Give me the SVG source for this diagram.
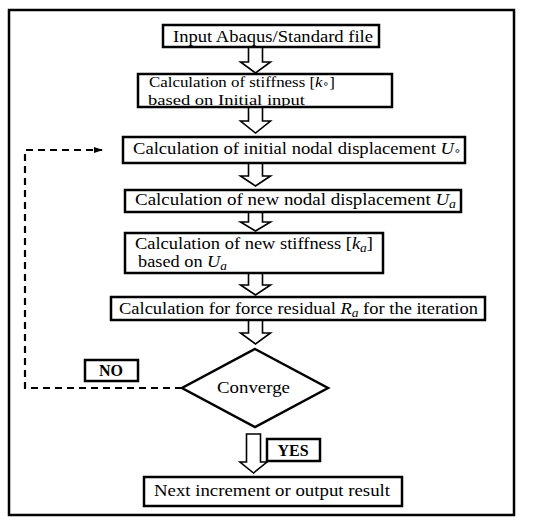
<svg xmlns="http://www.w3.org/2000/svg" width="550" height="526" viewBox="0 0 550 526">
<style>
.t{font-family:"Liberation Serif","Times New Roman",serif;font-size:16.5px;fill:#000}
.m{font-size:15.5px}
.b{font-weight:bold;font-size:16px}
.box{fill:#fff;stroke:#000;stroke-width:2.5}
.arr{fill:#fff;stroke:#000;stroke-width:1.6;stroke-linejoin:miter}
.dash{fill:none;stroke:#000;stroke-width:2.2;stroke-dasharray:7 5}
.i{font-style:italic}
.s{font-style:italic;font-size:12px}
.o{font-family:"DejaVu Sans",sans-serif;font-size:10px}
</style>
<defs>
<marker id="ah" markerWidth="9" markerHeight="8" refX="8" refY="4" orient="auto" markerUnits="userSpaceOnUse"><path d="M0,1 L9,4 L0,7 Z" fill="#000"/></marker>
</defs>
<rect x="0" y="0" width="550" height="526" fill="#fff"/>
<rect x="9" y="10" width="505" height="505" fill="none" stroke="#000" stroke-width="2.5"/>

<g id="connectors">
<path class="arr" d="M248.5,47 V62 H240.5 L255.5,73 L270.5,62 H262.5 V47 Z"/>
<path class="arr" d="M248.5,107 V121 H240.5 L255.5,133 L270.5,121 H262.5 V107 Z"/>
<path class="arr" d="M248.5,163 V176 H240.5 L255.5,186 L270.5,176 H262.5 V163 Z"/>
<path class="arr" d="M248.5,212 V222 H240.5 L255.5,231 L270.5,222 H262.5 V212 Z"/>
<path class="arr" d="M248.5,273 V285 H240.5 L255.5,295 L270.5,285 H262.5 V273 Z"/>
<path class="arr" d="M248.5,320 V333 H240.5 L255.5,344 L270.5,333 H262.5 V320 Z"/>
<path class="arr" d="M246.5,434 V462 H240 L253.5,473 L267,462 H260.5 V434 Z"/>
<path class="dash" d="M182,388 H25 V150 H102" marker-end="url(#ah)"/>
</g>

<g id="n1">
<rect class="box" x="163" y="25" width="216" height="22"/>
<text class="t" x="173" y="42" textLength="200" lengthAdjust="spacingAndGlyphs">Input Abaqus/Standard file</text>
</g>
<g id="n2">
<rect class="box" x="138" y="74" width="254" height="33"/>
<text class="t m" x="149" y="87" textLength="186" lengthAdjust="spacingAndGlyphs">Calculation of stiffness [<tspan class="i">k</tspan><tspan class="o">∘</tspan>]</text>
<text class="t m" x="148" y="104.5" textLength="157" lengthAdjust="spacingAndGlyphs">based on Initial input</text>
</g>
<g id="n3">
<rect class="box" x="123" y="137" width="342" height="26"/>
<text class="t" x="133" y="154" textLength="328" lengthAdjust="spacingAndGlyphs">Calculation of initial nodal displacement <tspan class="i">U</tspan><tspan class="o">∘</tspan></text>
</g>
<g id="n4">
<rect class="box" x="125" y="190" width="336" height="22"/>
<text class="t" x="135" y="205" textLength="321" lengthAdjust="spacingAndGlyphs">Calculation of new nodal displacement <tspan class="i">U</tspan><tspan class="s" dy="3">a</tspan></text>
</g>
<g id="n5">
<rect class="box" x="125" y="233" width="258" height="40"/>
<text class="t" x="135" y="249" textLength="238" lengthAdjust="spacingAndGlyphs">Calculation of new stiffness [<tspan class="i">k</tspan><tspan class="s" dy="3">a</tspan><tspan dy="-3">]</tspan></text>
<text class="t" x="138" y="267" textLength="89" lengthAdjust="spacingAndGlyphs">based on <tspan class="i">U</tspan><tspan class="s" dy="3">a</tspan></text>
</g>
<g id="n6">
<rect class="box" x="111" y="297" width="374" height="23"/>
<text class="t" x="119" y="314" textLength="359" lengthAdjust="spacingAndGlyphs">Calculation for force residual <tspan class="i">R</tspan><tspan class="s" dy="3">a</tspan><tspan dy="-3"> for the iteration</tspan></text>
</g>
<g id="converge">
<polygon points="255,349 328,388 255,427 182,388" fill="#fff" stroke="#000" stroke-width="2.5"/>
<text class="t" x="217" y="393" textLength="73" lengthAdjust="spacingAndGlyphs">Converge</text>
</g>
<g id="no">
<rect class="box" x="85" y="360" width="53" height="21"/>
<text class="t b" x="111" y="376" text-anchor="middle">NO</text>
</g>
<g id="yes">
<rect class="box" x="267" y="439" width="53" height="22"/>
<text class="t b" x="293" y="456" text-anchor="middle">YES</text>
</g>
<g id="n7">
<rect class="box" x="144" y="477" width="258" height="29"/>
<text class="t" x="154" y="496" textLength="236" lengthAdjust="spacingAndGlyphs">Next increment or output result</text>
</g>
</svg>
